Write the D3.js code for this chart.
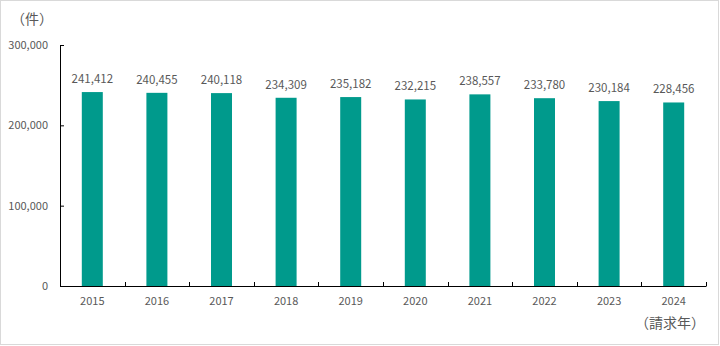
<!DOCTYPE html>
<html>
<head>
<meta charset="utf-8">
<script src="https://cdn.jsdelivr.net/npm/d3@7"></script>
<style>
  html, body { margin: 0; padding: 0; background: #fff; }
  svg { display: block; }
  text { font-family: "Noto Sans CJK JP", "Noto Sans", sans-serif; fill: #595959; }
</style>
</head>
<body>
<svg id="chart" width="720" height="346"></svg>
<script>
// Claims per year
const years = ["2015", "2016", "2017", "2018", "2019", "2020", "2021", "2022", "2023", "2024"];
const claims = [241412, 240455, 240118, 234309, 235182, 232215, 238557, 233780, 230184, 228456];
const yTicks = [0, 100000, 200000, 300000];
const unitLabel = "（件）";
const xTitle = "（請求年）";

const svg = d3.select("#chart");
const W = 720, H = 346;
const m = { left: 60, right: 14, top: 45, bottom: 60 };

// outer frame
svg.append("rect")
  .attr("x", 0.5).attr("y", 0.5)
  .attr("width", W - 2).attr("height", H - 2)
  .attr("fill", "#fff").attr("stroke", "#d9d9d9");

const x = d3.scaleBand().domain(years).range([m.left, W - m.right]).paddingInner(0.675).paddingOuter(0.3375);
const y = d3.scaleLinear().domain([0, 300000]).range([H - m.bottom, m.top]);
const fmt = d3.format(",");

// bars
svg.append("g").selectAll("rect").data(years).join("rect")
  .attr("x", d => x(d))
  .attr("y", (d, i) => y(claims[i]))
  .attr("width", x.bandwidth())
  .attr("height", (d, i) => y(0) - y(claims[i]))
  .attr("fill", "#009a8c");

// value labels
svg.append("g").selectAll("text").data(years).join("text")
  .attr("x", d => x(d) + x.bandwidth() / 2)
  .attr("y", (d, i) => y(claims[i]) - 9)
  .attr("text-anchor", "middle")
  .attr("font-size", 11.5)
  .text((d, i) => fmt(claims[i]));

// y axis
const yAxis = svg.append("g").attr("transform", `translate(${m.left},0)`)
  .call(d3.axisLeft(y).tickValues(yTicks).tickFormat(fmt).tickSize(-4).tickPadding(12));
yAxis.select(".domain").attr("stroke", "#000").attr("d", `M0.5,${y(300000)}V${y(0)}`);
yAxis.selectAll(".tick line").attr("stroke", "#000");
yAxis.selectAll(".tick text").attr("font-size", 11).attr("fill", "#595959").attr("font-family", "Noto Sans CJK JP");

// x axis with separators between categories
const xg = svg.append("g").attr("transform", `translate(0,${y(0)})`);
xg.append("line")
  .attr("x1", m.left).attr("x2", W - m.right)
  .attr("y1", 0.5).attr("y2", 0.5)
  .attr("stroke", "#000");
const step = x.step();
const edges = d3.range(1, years.length + 1).map(i => m.left + i * (W - m.right - m.left) / years.length);
xg.selectAll("line.sep").data(edges).join("line")
  .attr("class", "sep")
  .attr("x1", d => Math.round(d) + 0.5).attr("x2", d => Math.round(d) + 0.5)
  .attr("y1", -4).attr("y2", 0.5)
  .attr("stroke", "#000");
xg.selectAll("text").data(years).join("text")
  .attr("x", d => x(d) + x.bandwidth() / 2)
  .attr("y", 19)
  .attr("text-anchor", "middle")
  .attr("font-size", 11)
  .text(d => d);

// unit and axis titles
svg.append("text").attr("x", 32).attr("y", 24).attr("text-anchor", "middle")
  .attr("font-size", 14).text(unitLabel);
svg.append("text").attr("x", 670).attr("y", 328).attr("text-anchor", "middle")
  .attr("font-size", 14).text(xTitle);
</script>
</body>
</html>
